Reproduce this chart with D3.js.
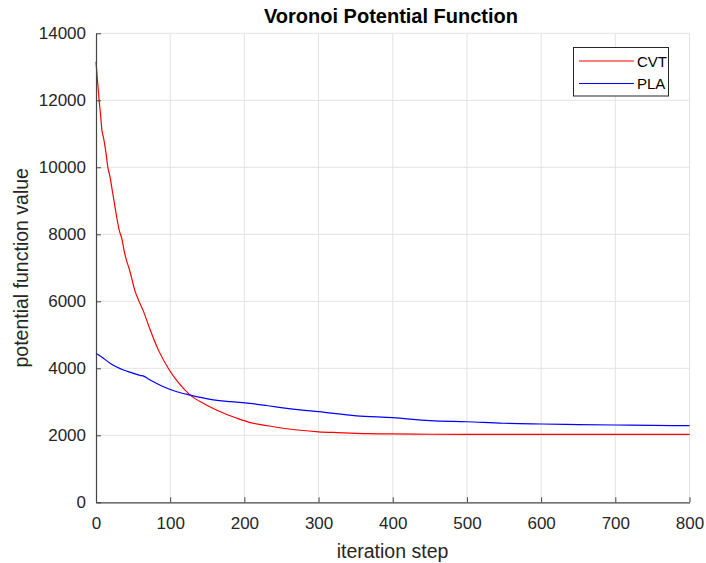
<!DOCTYPE html>
<html>
<head>
<meta charset="utf-8">
<script src="https://cdn.jsdelivr.net/npm/d3@7"></script>
<style>
  html, body { margin: 0; padding: 0; background: #fff; }
  svg { display: block; font-family: "Liberation Sans", Arial, Helvetica, sans-serif; }
</style>
</head>
<body>
<svg id="chart" width="706" height="563"></svg>
<script>
// Potential function value per iteration step
const cvtSteps  = [0, 2, 4, 6, 8, 10, 13, 16, 19, 22, 25, 28, 31, 35, 38, 41, 45, 48, 52, 57, 64, 73, 84, 98, 110, 127, 145, 163, 190, 208, 230, 252, 275, 300, 325, 351, 400, 450, 500, 600, 700, 800];
const cvtValues = [13150, 12600, 12050, 11600, 11100, 10900, 10500, 10000, 9700, 9300, 8900, 8500, 8150, 7850, 7500, 7230, 6950, 6700, 6350, 6050, 5700, 5150, 4550, 3980, 3600, 3200, 2950, 2750, 2510, 2380, 2290, 2210, 2150, 2105, 2080, 2060, 2040, 2032, 2028, 2025, 2025, 2025];

const plaSteps  = [0, 10, 19, 28, 37, 48, 59, 65, 70, 80, 91, 109, 127, 154, 181, 207, 230, 252, 275, 300, 351, 400, 450, 500, 549, 600, 650, 700, 750, 800];
const plaValues = [4450, 4300, 4150, 4040, 3950, 3870, 3790, 3760, 3690, 3570, 3450, 3300, 3200, 3075, 3005, 2955, 2890, 2820, 2760, 2705, 2580, 2525, 2440, 2405, 2360, 2337, 2320, 2307, 2295, 2290];

const xTicks = [0, 100, 200, 300, 400, 500, 600, 700, 800];
const yTicks = [0, 2000, 4000, 6000, 8000, 10000, 12000, 14000];

const seriesNames  = ["CVT", "PLA"];
const seriesColors = ["#ff0000", "#0000ff"];

const svg = d3.select("#chart");
const plotLeft = 96, plotRight = 689.5, plotTop = 33.3, plotBottom = 502.3;

const x = d3.scaleLinear().domain([0, 800]).range([plotLeft, plotRight]);
const y = d3.scaleLinear().domain([0, 14000]).range([plotBottom, plotTop]);

const axisColor = "#444";
const textColor = "#262626";

// grid
const grid = svg.append("g").attr("stroke", "#e3e3e3").attr("stroke-width", 1);
xTicks.filter(t => t > 0).forEach(t => {
  grid.append("line").attr("x1", x(t)).attr("x2", x(t)).attr("y1", y(0)).attr("y2", y(14000));
});
yTicks.filter(t => t > 0).forEach(t => {
  grid.append("line").attr("x1", x(0)).attr("x2", x(800)).attr("y1", y(t)).attr("y2", y(t));
});

// series
const series = [
  d3.zip(cvtSteps, cvtValues),
  d3.zip(plaSteps, plaValues)
];
const lineGen = d3.line().x(d => x(d[0])).y(d => y(d[1])).curve(d3.curveMonotoneX);
series.forEach((pts, i) => {
  svg.append("path")
    .datum(pts)
    .attr("fill", "none")
    .attr("stroke", seriesColors[i])
    .attr("stroke-width", 1.2)
    .attr("d", lineGen);
});

// axes (ticks point inward)
const fmt = d3.format("d");
const xAxis = d3.axisBottom(x).tickValues(xTicks).tickFormat(fmt).tickSizeInner(-5).tickSizeOuter(0).tickPadding(15);
const yAxis = d3.axisLeft(y).tickValues(yTicks).tickFormat(fmt).tickSizeInner(-5).tickSizeOuter(0).tickPadding(10);

const gx = svg.append("g").attr("transform", `translate(0,${plotBottom})`).call(xAxis);
const gy = svg.append("g").attr("transform", `translate(${plotLeft},0)`).call(yAxis);
[gx, gy].forEach(g => {
  g.selectAll("path.domain").attr("stroke", axisColor).attr("stroke-width", 1.2);
  g.selectAll(".tick line").attr("stroke", axisColor);
  g.selectAll(".tick text").attr("fill", textColor).attr("font-size", 17).attr("font-family", "Liberation Sans, Arial, sans-serif");
});

// title and axis labels
svg.append("text")
  .attr("x", 391).attr("y", 23)
  .attr("text-anchor", "middle")
  .attr("font-size", 20).attr("font-weight", "bold").attr("fill", "#000")
  .text("Voronoi Potential Function");

svg.append("text")
  .attr("x", 392.5).attr("y", 557.5)
  .attr("text-anchor", "middle")
  .attr("font-size", 19.5).attr("fill", textColor)
  .text("iteration step");

svg.append("text")
  .attr("transform", `translate(28,${(plotTop + plotBottom) / 2}) rotate(-90)`)
  .attr("text-anchor", "middle")
  .attr("font-size", 19.5).attr("fill", textColor)
  .text("potential function value");

// legend
const lg = svg.append("g");
lg.append("rect")
  .attr("x", 573.5).attr("y", 47.5).attr("width", 95).attr("height", 48.5)
  .attr("fill", "#fff").attr("stroke", "#262626").attr("stroke-width", 1);
seriesNames.forEach((name, i) => {
  const ly = 61 + i * 22.5;
  lg.append("line").attr("x1", 579).attr("x2", 634).attr("y1", ly).attr("y2", ly)
    .attr("stroke", seriesColors[i]).attr("stroke-width", 1.2);
  lg.append("text").attr("x", 637).attr("y", ly + 5.5)
    .attr("font-size", 15).attr("fill", "#000").text(name);
});
</script>
</body>
</html>
